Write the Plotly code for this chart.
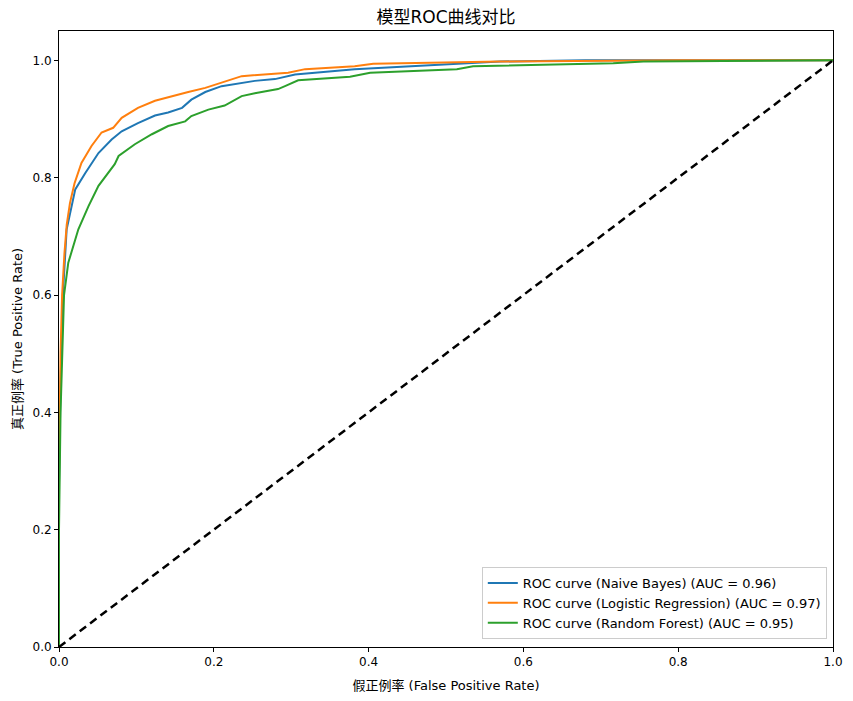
import plotly.graph_objects as go

nb_fpr = [0, 0, 0.002, 0.005, 0.0099, 0.021, 0.034, 0.051, 0.068, 0.081, 0.102, 0.124, 0.141, 0.159, 0.171, 0.189, 0.210, 0.253, 0.279, 0.305, 0.382, 0.475, 0.57, 0.68, 1.0]
nb_tpr = [0, 0.28, 0.45, 0.60, 0.712, 0.78, 0.808, 0.842, 0.865, 0.879, 0.893, 0.906, 0.911, 0.919, 0.933, 0.946, 0.956, 0.965, 0.968, 0.976, 0.985, 0.991, 0.998, 1.0, 1.0]

lr_fpr = [0, 0, 0.002, 0.004, 0.007, 0.010, 0.0142, 0.02, 0.029, 0.042, 0.055, 0.070, 0.081, 0.102, 0.124, 0.146, 0.167, 0.189, 0.210, 0.236, 0.296, 0.318, 0.382, 0.406, 0.57, 0.8, 1.0]
lr_tpr = [0, 0.30, 0.50, 0.60, 0.67, 0.72, 0.757, 0.79, 0.825, 0.854, 0.877, 0.885, 0.902, 0.919, 0.931, 0.939, 0.946, 0.953, 0.962, 0.973, 0.979, 0.985, 0.990, 0.994, 0.998, 1.0, 1.0]

rf_fpr = [0, 0, 0.002, 0.0065, 0.012, 0.025, 0.038, 0.051, 0.072, 0.077, 0.098, 0.120, 0.141, 0.163, 0.171, 0.193, 0.214, 0.236, 0.253, 0.283, 0.292, 0.309, 0.376, 0.402, 0.514, 0.535, 0.716, 0.755, 1.0]
rf_tpr = [0, 0.20, 0.40, 0.60, 0.655, 0.712, 0.751, 0.786, 0.823, 0.837, 0.857, 0.874, 0.888, 0.896, 0.905, 0.916, 0.923, 0.939, 0.944, 0.951, 0.956, 0.966, 0.972, 0.979, 0.985, 0.990, 0.995, 0.998, 1.0]

names = ["ROC curve (Naive Bayes) (AUC = 0.96)",
         "ROC curve (Logistic Regression) (AUC = 0.97)",
         "ROC curve (Random Forest) (AUC = 0.95)"]
colors = ["#1f77b4", "#ff7f0e", "#2ca02c"]
diag = [0, 1]

FONT = "'DejaVu Sans', 'Noto Sans CJK SC', sans-serif"

fig = go.Figure()
for fx, ty, nm, c in [(nb_fpr, nb_tpr, names[0], colors[0]),
                      (lr_fpr, lr_tpr, names[1], colors[1]),
                      (rf_fpr, rf_tpr, names[2], colors[2])]:
    fig.add_trace(go.Scatter(x=fx, y=ty, mode="lines", name=nm,
                             line=dict(color=c, width=2)))
fig.add_trace(go.Scatter(x=diag, y=diag, mode="lines", showlegend=False,
                         line=dict(color="black", width=2.5, dash="8px,5px")))

axis_common = dict(showgrid=False, zeroline=False, showline=True, linecolor="black",
                   linewidth=1, mirror=True, ticks="outside", ticklen=4, automargin=False,
                   tickcolor="black", tickfont=dict(size=12, color="black", family=FONT))

W, H = 837, 685
fig.update_layout(
    width=W, height=H,
    margin=dict(l=51, r=12, t=23, b=46),
    paper_bgcolor="white", plot_bgcolor="white",
    font=dict(family=FONT, color="black"),
    title=dict(text="模型ROC曲线对比", x=(51 + 825) / 2 / W, xanchor="center",
               y=1 - 9.5 / H, yanchor="middle", font=dict(size=17, color="black"),
               automargin=False),
    xaxis=dict(range=[0, 1], tickvals=[0, 0.2, 0.4, 0.6, 0.8, 1.0],
               ticktext=["0.0", "0.2", "0.4", "0.6", "0.8", "1.0"],
               title=dict(text="假正例率 (False Positive Rate)", font=dict(size=13), standoff=14),
               **axis_common),
    yaxis=dict(range=[0, 1.05], tickvals=[0, 0.2, 0.4, 0.6, 0.8, 1.0],
               ticktext=["0.0", "0.2", "0.4", "0.6", "0.8", "1.0"],
               title=dict(text="真正例率 (True Positive Rate)", font=dict(size=13), standoff=6),
               **axis_common),
    legend=dict(x=0.992, y=0.013, xanchor="right", yanchor="bottom",
                bgcolor="rgba(255,255,255,0.8)", bordercolor="#cccccc", borderwidth=1,
                font=dict(size=13, color="black"), itemwidth=30, tracegroupgap=0),
)

fig.write_html("out.html")
